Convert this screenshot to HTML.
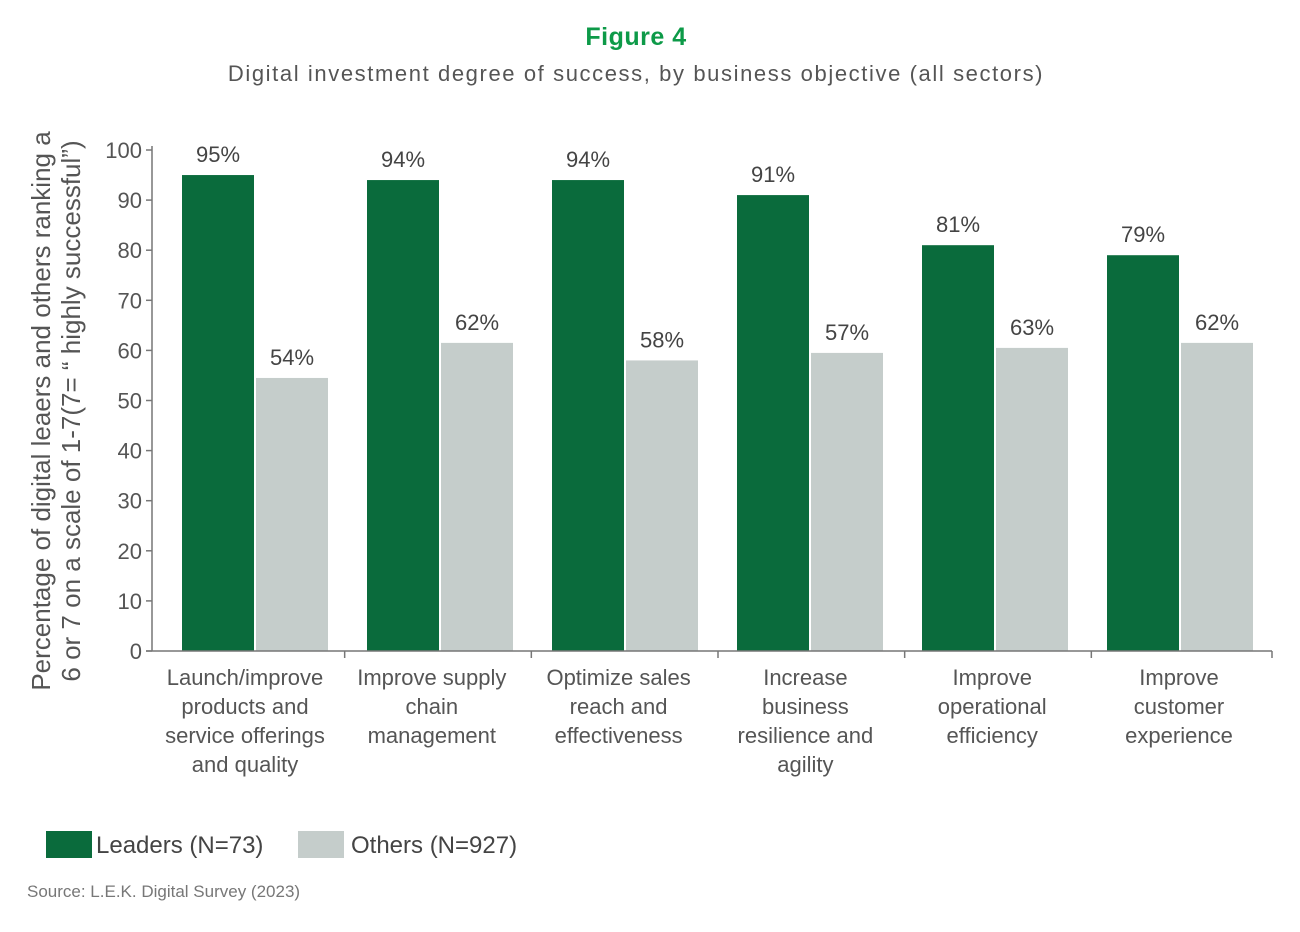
<!DOCTYPE html>
<html><head><meta charset="utf-8"><style>
body{margin:0;background:#fff;width:1300px;height:927px;overflow:hidden;font-family:"Liberation Sans",sans-serif}
</style></head><body>
<svg id="chart" width="1300" height="927" xmlns="http://www.w3.org/2000/svg" font-family="Liberation Sans, sans-serif">
<text x="636" y="45" text-anchor="middle" font-size="25" font-weight="bold" fill="#0d9a48" letter-spacing="0.5">Figure 4</text>
<text x="636" y="81" text-anchor="middle" font-size="22" fill="#555" letter-spacing="1.6">Digital investment degree of success, by business objective (all sectors)</text>
<g transform="translate(50,411) rotate(-90)">
<text text-anchor="middle" font-size="26" fill="#555"><tspan x="0" y="0">Percentage of digital leaers and others ranking a</tspan><tspan x="0" y="30">6 or 7 on a scale of 1-7(7= “ highly successful”)</tspan></text>
</g>
<g id="plot"></g>
<rect x="46" y="831" width="46" height="27" fill="#0a6b3c"/>
<text x="96" y="853" font-size="24" fill="#444">Leaders (N=73)</text>
<rect x="298" y="831" width="46" height="27" fill="#c5cdcb"/>
<text x="351" y="853" font-size="24" fill="#444">Others (N=927)</text>
<text x="27" y="897" font-size="17" fill="#777">Source: L.E.K. Digital Survey (2023)</text>
</svg>
<script>
const categories=[["Launch/improve","products and","service offerings","and quality"],["Improve supply","chain","management"],["Optimize sales","reach and","effectiveness"],["Increase","business","resilience and","agility"],["Improve","operational","efficiency"],["Improve","customer","experience"]];
const leaders=[95,94,94,91,81,79];
const others=[54.5,61.5,58,59.5,60.5,61.5];
const leaderLabels=["95%","94%","94%","91%","81%","79%"];
const otherLabels=["54%","62%","58%","57%","63%","62%"];
const yTicks=[0,10,20,30,40,50,60,70,80,90,100];
const NS="http://www.w3.org/2000/svg";
const g=document.getElementById('plot');
const x0=152,x1=1272,yBase=651,yTop=150;
const y=v=>yBase-(v/100)*(yBase-yTop);
const gw=(x1-x0)/categories.length;
const barStep=185;
const xb=i=>182+i*barStep;
const xg=i=>x0+i*gw;
function mk(t,a){const e=document.createElementNS(NS,t);for(const k in a)e.setAttribute(k,a[k]);g.appendChild(e);return e;}
yTicks.forEach(v=>{
 const l=mk('line',{x1:x0-6,x2:x0,y1:y(v),y2:y(v),stroke:'#777','stroke-width':1.5});
 
 
 const t=mk('text',{x:x0-10,y:y(v)+8,'text-anchor':'end','font-size':22,fill:'#555'});
 t.textContent=v;
 
 
});
categories.forEach((c,i)=>{
 const b1=mk('rect',{x:xb(i),y:y(leaders[i]),width:72,height:yBase-y(leaders[i]),fill:'#0a6b3c'});
 
 
 const b2=mk('rect',{x:xb(i)+74,y:y(others[i]),width:72,height:yBase-y(others[i]),fill:'#c5cdcb'});
 
 
 const t1=mk('text',{x:xb(i)+36,y:y(leaders[i])-13,'text-anchor':'middle','font-size':22,fill:'#444'});
 t1.textContent=leaderLabels[i];
 
 
 const t2=mk('text',{x:xb(i)+110,y:y(others[i])-13,'text-anchor':'middle','font-size':22,fill:'#444'});
 t2.textContent=otherLabels[i];
 
 
 const tx0=Math.min(xg(i+1)+6,x1);
 const tk=mk('line',{x1:tx0,x2:tx0,y1:yBase,y2:yBase+7,stroke:'#777','stroke-width':1.5});
 
 
 const tx=mk('text',{'text-anchor':'middle','font-size':22,fill:'#555'});
 
 
 c.forEach((line,j)=>{const s=document.createElementNS(NS,'tspan');s.setAttribute('x',245+i*186.8);s.setAttribute('y',685+j*29);s.textContent=line;tx.appendChild(s);});
});
const ax=mk('line',{x1:x0,x2:x0,y1:yTop-4,y2:yBase,stroke:'#777','stroke-width':1.5});


const bx=mk('line',{x1:x0-6,x2:x1,y1:yBase,y2:yBase,stroke:'#777','stroke-width':1.5});


</script>
</body></html>
